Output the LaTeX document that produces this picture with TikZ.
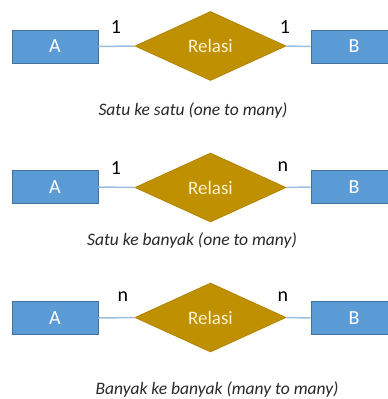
\documentclass[tikz,border=0pt]{standalone}
\usepackage{fontspec}
\setmainfont{Carlito}
\usetikzlibrary{shapes.geometric}
\definecolor{boxfill}{RGB}{91,155,213}
\definecolor{boxline}{RGB}{65,113,156}
\definecolor{relfill}{RGB}{191,144,0}
\definecolor{relline}{RGB}{178,132,0}
\definecolor{reltext}{RGB}{255,242,204}
\definecolor{conncol}{RGB}{157,190,222}
\definecolor{captext}{RGB}{40,40,40}
\tikzset{
  entity/.style={draw=boxline, fill=boxfill, line width=0.8pt, minimum width=86pt, minimum height=33pt, inner sep=0pt, text=white, font=\fontsize{20}{24}\selectfont},
  relation/.style={diamond, draw=relline, fill=relfill, line width=0.8pt, minimum width=151pt, minimum height=69pt, inner sep=0pt, text=reltext, font=\fontsize{19}{23}\selectfont},
  conn/.style={draw=conncol, line width=1.5pt},
  card/.style={inner sep=0pt, text=black, font=\fontsize{20}{24}\selectfont},
  caption/.style={inner sep=0pt, text=captext, font=\fontsize{17.5}{21}\selectfont\itshape}
}
\begin{document}
\begin{tikzpicture}[x=1pt,y=-1pt]
\useasboundingbox (0,0) rectangle (388,399);
\clip (0,0) rectangle (388,399);
% row 1
\node[entity] (A1) at (55,46.5) {A};
\node[entity] (B1) at (354,46.5) {B};
\node[relation] (R1) at (210.5,46) {Relasi};
\draw[conn] (A1.east) -- (R1.west);
\draw[conn] (R1.east) -- (B1.west);
\node[card] (c1l) at (116,27) {1};
\node[card] (c1r) at (285,27) {1};
\node[caption] (cap1) at (193,111) {Satu ke satu (one to many)};
% row 2
\node[entity] (A2) at (55,187) {A};
\node[entity] (B2) at (354,187) {B};
\node[relation] (R2) at (210.5,187.5) {Relasi};
\draw[conn] (A2.east) -- (R2.west);
\draw[conn] (R2.east) -- (B2.west);
\node[card] (c2l) at (116,168) {1};
\node[card] (c2r) at (283,167) {n};
\node[caption] (cap2) at (192,241) {Satu ke banyak (one to many)};
% row 3
\node[entity] (A3) at (55,318) {A};
\node[entity] (B3) at (354,318) {B};
\node[relation] (R3) at (210.5,317.5) {Relasi};
\draw[conn] (A3.east) -- (R3.west);
\draw[conn] (R3.east) -- (B3.west);
\node[card] (c3l) at (123,297) {n};
\node[card] (c3r) at (283,297) {n};
\node[caption] (cap3) at (217,390) {Banyak ke banyak (many to many)};
\end{tikzpicture}
\end{document}
